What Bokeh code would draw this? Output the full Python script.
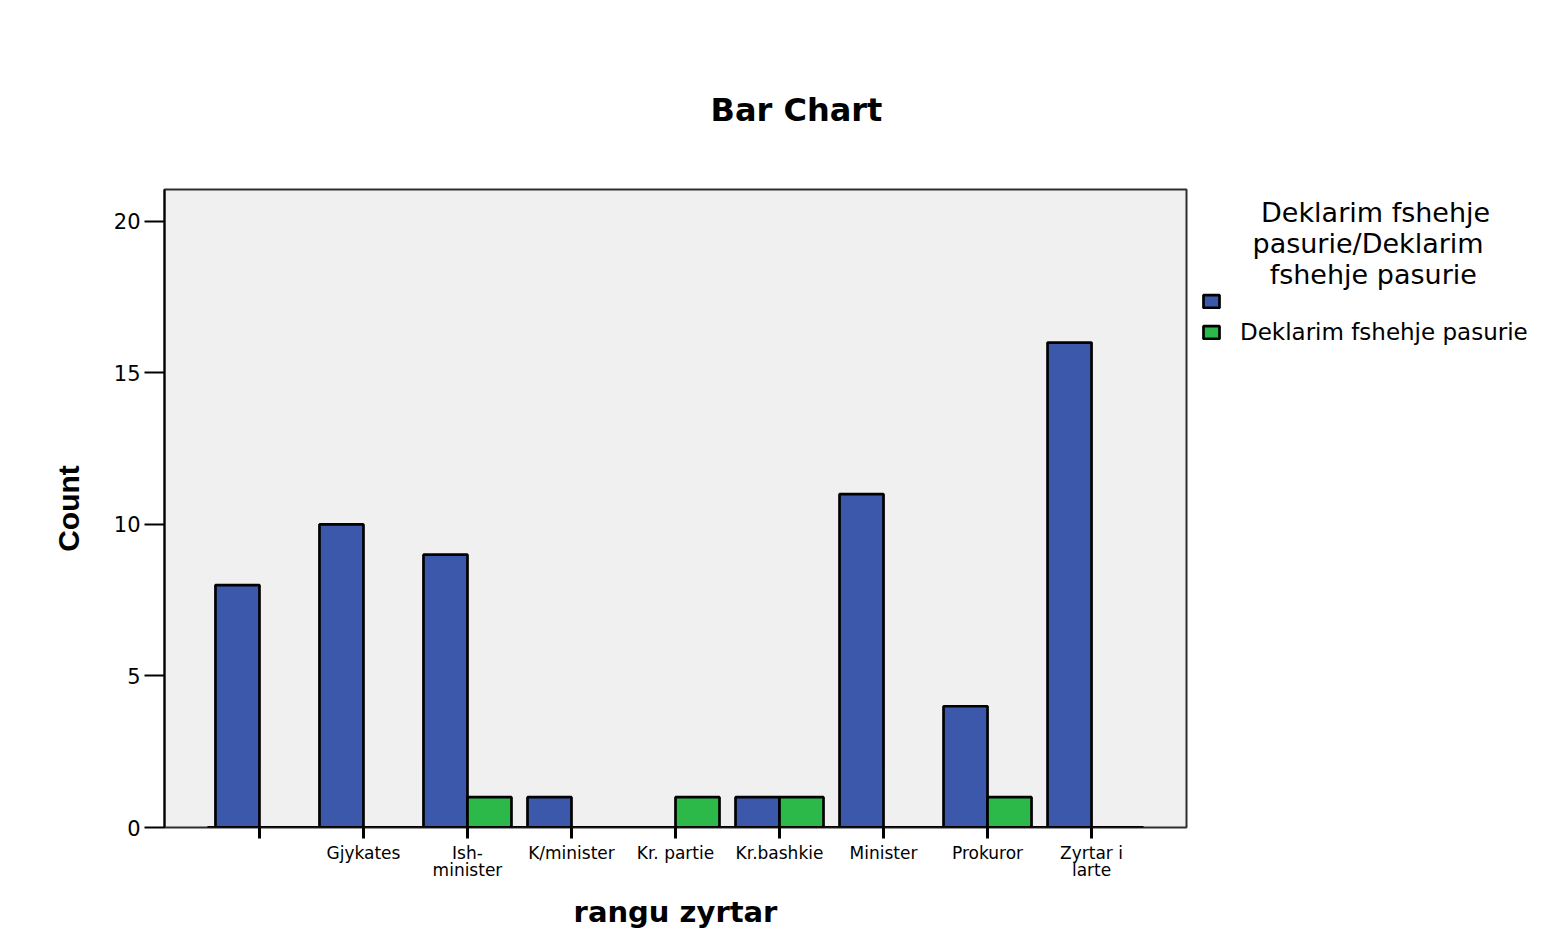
from bokeh.plotting import figure
from bokeh.models import Range1d, FixedTicker, Legend, LegendItem, Title
from bokeh.embed import file_html
from bokeh.resources import INLINE

# ---- data ----
categories = ["", "Gjykates", "Ish-\nminister", "K/minister", "Kr. partie",
              "Kr.bashkie", "Minister", "Prokuror", "Zyrtar i\nlarte"]
blue_counts = [8, 10, 9, 1, 0, 1, 11, 4, 16]
green_counts = [0, 0, 1, 0, 1, 1, 0, 1, 0]
series_names = ["", "Deklarim fshehje pasurie"]
legend_title_lines = ["Deklarim fshehje", "pasurie/Deklarim", "fshehje pasurie"]
y_ticks = [0, 5, 10, 15, 20]
chart_title = "Bar Chart"
x_title = "rangu zyrtar"
y_title = "Count"

BLUE = "#3C58AB"
GREEN = "#2DB84A"
FONT = "DejaVu Sans"

p = figure(frame_width=1022, frame_height=638, output_backend="svg", toolbar_location=None,
           x_range=Range1d(-0.913, 8.913), y_range=Range1d(0, 21.05),
           min_border_left=164, min_border_right=0,
           min_border_top=189, min_border_bottom=119, title=None)
p.background_fill_color = "#F0F0F0"
p.border_fill_color = "white"
p.outline_line_color = "#2E2E2E"
p.outline_line_width = 2
p.grid.visible = False

idx = list(range(len(categories)))
bw = 0.423

bx = [i - bw / 2 for i, v in zip(idx, blue_counts) if v > 0]
by = [v for v in blue_counts if v > 0]
gx = [i + bw / 2 for i, v in zip(idx, green_counts) if v > 0]
gy = [v for v in green_counts if v > 0]

rb = p.vbar(x=bx, top=by, bottom=0, width=bw, fill_color=BLUE,
            line_color="black", line_width=2.7)
rg = p.vbar(x=gx, top=gy, bottom=0, width=bw, fill_color=GREEN,
            line_color="black", line_width=2.7)

# baseline across the categories
p.segment(x0=[idx[0] - 0.5], y0=[0], x1=[idx[-1] + 0.5], y1=[0],
          line_color="black", line_width=3)

# x axis
xa = p.xaxis[0]
xa.ticker = FixedTicker(ticks=idx)
xa.major_label_overrides = {i: c for i, c in zip(idx, categories)}
xa.axis_line_color = None
xa.major_tick_out = 11
xa.major_tick_in = 0
xa.major_tick_line_width = 3
xa.major_tick_line_color = "black"
xa.minor_tick_line_color = None
xa.major_label_text_font = FONT
xa.major_label_text_font_size = "17px"
xa.major_label_text_line_height = 0.85
xa.major_label_text_color = "black"
xa.major_label_standoff = 4
xa.axis_label = x_title
xa.axis_label_text_font = FONT
xa.axis_label_text_font_style = "bold"
xa.axis_label_text_font_size = "29px"
xa.axis_label_text_color = "black"
xa.axis_label_standoff = 12

# y axis
ya = p.yaxis[0]
ya.ticker = FixedTicker(ticks=y_ticks)
ya.axis_line_color = "black"
ya.axis_line_width = 2
ya.major_tick_out = 20
ya.major_tick_in = 0
ya.major_tick_line_width = 2
ya.major_tick_line_color = "black"
ya.minor_tick_line_color = None
ya.major_label_text_font = FONT
ya.major_label_text_font_size = "21px"
ya.major_label_text_color = "black"
ya.major_label_standoff = 4
ya.axis_label = y_title
ya.axis_label_text_font = "Liberation Sans"
ya.axis_label_text_font_style = "bold"
ya.axis_label_text_font_size = "30px"
ya.axis_label_text_color = "black"
ya.axis_label_standoff = 26

# chart title
p.add_layout(Title(text=chart_title, align="left", offset=546, standoff=122,
                   text_font=FONT, text_font_style="bold", text_font_size="32px",
                   text_color="black"), "above")

# legend (title lines centred with non-breaking-space indents)
NB = "\u00a0"
indents = [7, 6, 8]
legend_title = "\n".join(NB * n + line for n, line in zip(indents, legend_title_lines))

legend = Legend(items=[LegendItem(label=series_names[0], renderers=[rb]),
                       LegendItem(label=series_names[1], renderers=[rg])],
                location=(15, 482), orientation="vertical",
                title=legend_title)
legend.title_text_font = FONT
legend.title_text_font_size = "27px"
legend.title_text_line_height = 1.0
legend.title_text_font_style = "normal"
legend.title_text_color = "black"
legend.title_standoff = 1
legend.glyph_width = 20
legend.glyph_height = 16
legend.label_standoff = 19
legend.label_height = 20
legend.label_text_font = FONT
legend.label_text_font_size = "23px"
legend.label_text_color = "black"
legend.spacing = 8
legend.padding = 0
legend.margin = 0
legend.border_line_color = None
legend.background_fill_alpha = 0
p.add_layout(legend, "right")

open("out.html", "w").write(file_html(p, INLINE))
